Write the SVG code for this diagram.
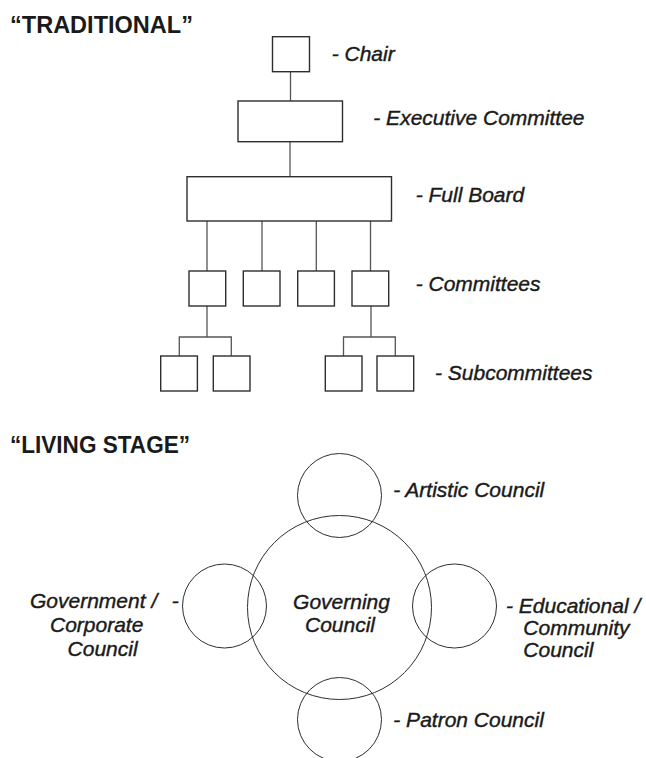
<svg xmlns="http://www.w3.org/2000/svg" width="646" height="758" viewBox="0 0 646 758">
<style>
.bg{fill:#ffffff}
.box{fill:#ffffff;stroke:#2e2e2e;stroke-width:1.4}
.circ{fill:none;stroke:#2e2e2e;stroke-width:1}
.conn{fill:none;stroke:#555555;stroke-width:1.3}
.head{font-family:"Liberation Sans",Arial,sans-serif;font-weight:bold;font-size:23px;fill:#1a1a1a}
.lbl{font-family:"Liberation Sans",Arial,sans-serif;font-style:italic;font-size:21px;fill:#1a1a1a;stroke:#1a1a1a;stroke-width:0.4}
.mid{text-anchor:middle}
</style>
<rect class="bg" x="0" y="0" width="646" height="758"/>
<text class="head" x="10" y="32.7" textLength="183" lengthAdjust="spacingAndGlyphs">“TRADITIONAL”</text>
<text class="head" x="10" y="453.3" textLength="180" lengthAdjust="spacingAndGlyphs">“LIVING STAGE”</text>

<g id="connectors">
  <line class="conn" x1="290.5" y1="71.7" x2="290.5" y2="101"/>
  <line class="conn" x1="290" y1="141.7" x2="290" y2="176.7"/>
  <line class="conn" x1="207" y1="221" x2="207" y2="271"/>
  <line class="conn" x1="262" y1="221" x2="262" y2="271"/>
  <line class="conn" x1="316.3" y1="221" x2="316.3" y2="271"/>
  <line class="conn" x1="370.5" y1="221" x2="370.5" y2="271"/>
  <path class="conn" d="M207,306 V337 M179.3,356 V337 H231.3 V356"/>
  <path class="conn" d="M371,306 V337 M343.5,356 V337 H395.3 V356"/>
</g>

<g id="chair">
  <rect class="box" x="272.5" y="36.7" width="37" height="35"/>
  <text class="lbl" x="331.7" y="60.7">- Chair</text>
</g>
<g id="executive-committee">
  <rect class="box" x="238" y="101" width="104.5" height="40.7"/>
  <text class="lbl" x="373.3" y="125">- Executive Committee</text>
</g>
<g id="full-board">
  <rect class="box" x="187" y="176.7" width="204.5" height="44.3"/>
  <text class="lbl" x="415.7" y="201.7">- Full Board</text>
</g>
<g id="committees">
  <rect class="box" x="189" y="271" width="36.7" height="35"/>
  <rect class="box" x="243.3" y="271" width="36.7" height="35"/>
  <rect class="box" x="297.7" y="271" width="36.7" height="35"/>
  <rect class="box" x="352" y="271" width="36.7" height="35"/>
  <text class="lbl" x="415.7" y="290.7">- Committees</text>
</g>
<g id="subcommittees">
  <rect class="box" x="160.7" y="356" width="36.7" height="35"/>
  <rect class="box" x="213.3" y="356" width="36.7" height="35"/>
  <rect class="box" x="325.3" y="356" width="36.7" height="35"/>
  <rect class="box" x="377" y="356" width="36.7" height="35"/>
  <text class="lbl" x="435" y="380">- Subcommittees</text>
</g>

<g id="governing-council">
  <circle class="circ" cx="339.5" cy="607.5" r="92"/>
  <text class="lbl mid" x="341.5" y="608.5">Governing</text>
  <text class="lbl mid" x="340" y="632.3">Council</text>
</g>
<g id="artistic-council">
  <circle class="circ" cx="339.5" cy="495.5" r="42"/>
  <text class="lbl" x="393.3" y="497.3">- Artistic Council</text>
</g>
<g id="patron-council">
  <circle class="circ" cx="339.5" cy="719.5" r="42"/>
  <text class="lbl" x="393.3" y="726.7">- Patron Council</text>
</g>
<g id="government-corporate-council">
  <circle class="circ" cx="224.5" cy="606" r="42"/>
  <text class="lbl" x="30" y="608.3">Government /</text>
  <text class="lbl" x="171.7" y="608.3">-</text>
  <text class="lbl mid" x="96.7" y="632">Corporate</text>
  <text class="lbl mid" x="102.6" y="656">Council</text>
</g>
<g id="educational-community-council">
  <circle class="circ" cx="454.5" cy="606" r="42"/>
  <text class="lbl" x="506" y="613.3">- Educational /</text>
  <text class="lbl" x="523.3" y="635">Community</text>
  <text class="lbl" x="523.3" y="656.7">Council</text>
</g>
</svg>
